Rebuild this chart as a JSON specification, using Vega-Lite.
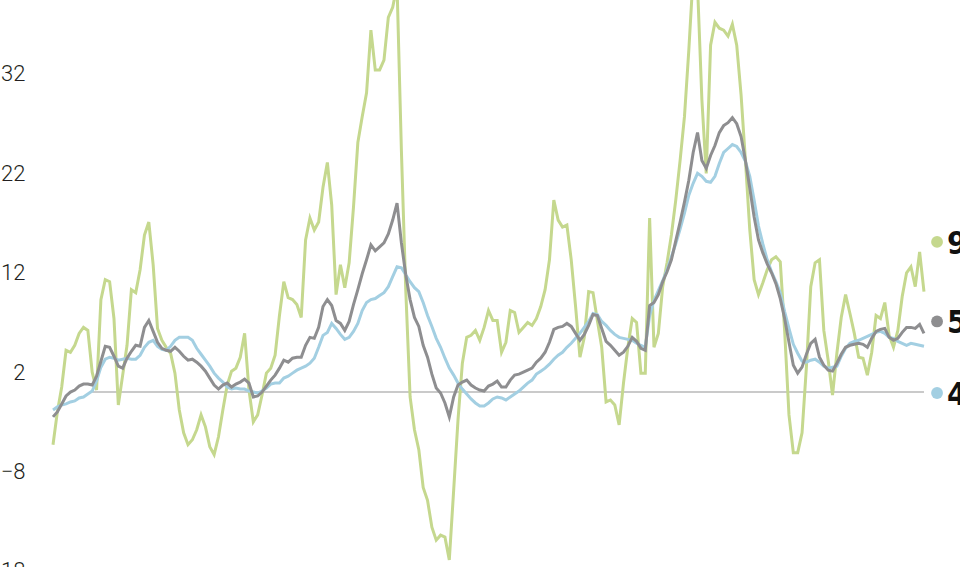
{
"$schema": "https://vega.github.io/schema/vega-lite/v6.json",
"width": 936, "height": 567,
"autosize": {"type": "none"},
"padding": {"left": 25, "top": 0, "right": 0, "bottom": 0},
"background": "#ffffff",
"config": {"view": {"stroke": null}},
"datasets": {
"base": [{"t": 9, "t2": 200, "v": 0}],
"legend": [{"t": 203, "v": 15.1, "s": "g", "lab": "9"}, {"t": 203, "v": 7.1, "s": "k", "lab": "5"}, {"t": 203, "v": -0.1, "s": "b", "lab": "4"}],
"series": [
{"t":0,"g":-5.3,"k":-2.5,"b":-1.8},{"t":1,"g":-2.0,"k":-2.0,"b":-1.5},{"t":2,"g":0.5,"k":-1.2,"b":-1.3},{"t":3,"g":4.2,"k":-0.4,"b":-1.2},{"t":4,"g":4.0,"k":0.0,"b":-1.0},
{"t":5,"g":4.7,"k":0.2,"b":-0.9},{"t":6,"g":5.9,"k":0.6,"b":-0.6},{"t":7,"g":6.5,"k":0.8,"b":-0.5},{"t":8,"g":6.2,"k":0.8,"b":-0.2},{"t":9,"g":2.0,"k":0.7,"b":0.1},
{"t":10,"g":0.2,"k":1.6,"b":1.1},{"t":11,"g":9.3,"k":3.1,"b":2.5},{"t":12,"g":11.3,"k":4.6,"b":3.3},{"t":13,"g":11.1,"k":4.5,"b":3.5},{"t":14,"g":7.4,"k":3.6,"b":3.4},
{"t":15,"g":-1.3,"k":2.6,"b":3.2},{"t":16,"g":1.7,"k":2.4,"b":3.3},{"t":17,"g":4.7,"k":3.4,"b":3.4},{"t":18,"g":10.3,"k":4.1,"b":3.3},{"t":19,"g":10.0,"k":4.7,"b":3.3},
{"t":20,"g":12.3,"k":4.6,"b":3.7},{"t":21,"g":15.8,"k":6.5,"b":4.5},{"t":22,"g":17.1,"k":7.2,"b":5.0},{"t":23,"g":12.8,"k":6.1,"b":5.2},{"t":24,"g":6.4,"k":5.0,"b":4.6},
{"t":25,"g":5.2,"k":4.4,"b":4.3},{"t":26,"g":4.5,"k":4.2,"b":4.2},{"t":27,"g":3.9,"k":4.1,"b":4.6},{"t":28,"g":1.9,"k":4.5,"b":5.2},{"t":29,"g":-1.8,"k":4.1,"b":5.5},
{"t":30,"g":-4.1,"k":3.6,"b":5.5},{"t":31,"g":-5.3,"k":3.2,"b":5.5},{"t":32,"g":-4.8,"k":3.3,"b":5.2},{"t":33,"g":-3.8,"k":3.0,"b":4.4},{"t":34,"g":-2.3,"k":2.6,"b":3.8},
{"t":35,"g":-3.5,"k":2.1,"b":3.2},{"t":36,"g":-5.5,"k":1.4,"b":2.6},{"t":37,"g":-6.3,"k":0.7,"b":1.9},{"t":38,"g":-4.5,"k":0.3,"b":1.4},{"t":39,"g":-1.8,"k":0.7,"b":1.0},
{"t":40,"g":0.7,"k":0.9,"b":0.5},{"t":41,"g":2.1,"k":0.5,"b":0.3},{"t":42,"g":2.4,"k":0.8,"b":0.4},{"t":43,"g":3.5,"k":1.0,"b":0.3},{"t":44,"g":5.9,"k":1.3,"b":0.3},
{"t":45,"g":0.2,"k":0.9,"b":0.1},{"t":46,"g":-3.0,"k":-0.5,"b":0.0},{"t":47,"g":-2.3,"k":-0.4,"b":-0.1},{"t":48,"g":-0.3,"k":0.0,"b":0.1},{"t":49,"g":1.9,"k":0.6,"b":0.4},
{"t":50,"g":2.4,"k":1.2,"b":0.8},{"t":51,"g":3.7,"k":1.7,"b":0.9},{"t":52,"g":7.7,"k":2.4,"b":0.9},{"t":53,"g":11.1,"k":3.2,"b":1.4},{"t":54,"g":9.5,"k":3.0,"b":1.6},
{"t":55,"g":9.3,"k":3.4,"b":1.9},{"t":56,"g":8.8,"k":3.5,"b":2.2},{"t":57,"g":7.5,"k":3.5,"b":2.4},{"t":58,"g":15.3,"k":4.7,"b":2.6},{"t":59,"g":17.5,"k":5.5,"b":2.9},
{"t":60,"g":16.3,"k":5.4,"b":3.4},{"t":61,"g":17.1,"k":6.5,"b":4.5},{"t":62,"g":20.6,"k":8.6,"b":5.7},{"t":63,"g":23.1,"k":9.3,"b":6.0},{"t":64,"g":18.8,"k":8.7,"b":6.9},
{"t":65,"g":9.8,"k":7.2,"b":6.4},{"t":66,"g":12.8,"k":6.9,"b":5.8},{"t":67,"g":10.5,"k":6.2,"b":5.3},{"t":68,"g":13.0,"k":7.1,"b":5.5},{"t":69,"g":18.6,"k":8.8,"b":6.1},
{"t":70,"g":25.1,"k":10.3,"b":6.9},{"t":71,"g":27.7,"k":11.9,"b":8.2},{"t":72,"g":30.1,"k":13.3,"b":9.0},{"t":73,"g":36.4,"k":14.8,"b":9.3},{"t":74,"g":32.4,"k":14.2,"b":9.4},
{"t":75,"g":32.4,"k":14.6,"b":9.7},{"t":76,"g":33.4,"k":15.0,"b":10.0},{"t":77,"g":37.7,"k":15.9,"b":10.6},{"t":78,"g":38.7,"k":17.3,"b":11.6},{"t":79,"g":40.9,"k":19.0,"b":12.6},
{"t":80,"g":24.3,"k":15.0,"b":12.5},{"t":81,"g":10.3,"k":11.8,"b":11.8},{"t":82,"g":-0.5,"k":9.3,"b":11.1},{"t":83,"g":-3.8,"k":7.5,"b":10.5},{"t":84,"g":-5.8,"k":6.6,"b":10.1},
{"t":85,"g":-9.6,"k":4.7,"b":9.0},{"t":86,"g":-10.9,"k":3.5,"b":7.7},{"t":87,"g":-13.6,"k":1.8,"b":6.6},{"t":88,"g":-14.9,"k":0.4,"b":5.4},{"t":89,"g":-14.4,"k":-0.1,"b":4.5},
{"t":90,"g":-14.6,"k":-1.1,"b":3.4},{"t":91,"g":-16.9,"k":-2.5,"b":2.4},{"t":92,"g":-9.9,"k":-0.5,"b":1.7},{"t":93,"g":-2.8,"k":0.7,"b":0.9},{"t":94,"g":2.9,"k":1.0,"b":0.3},
{"t":95,"g":5.5,"k":1.2,"b":-0.2},{"t":96,"g":5.7,"k":0.7,"b":-0.7},{"t":97,"g":6.2,"k":0.4,"b":-1.1},{"t":98,"g":5.2,"k":0.2,"b":-1.4},{"t":99,"g":6.5,"k":0.1,"b":-1.4},
{"t":100,"g":8.2,"k":0.6,"b":-1.1},{"t":101,"g":7.2,"k":0.8,"b":-0.7},{"t":102,"g":7.2,"k":1.1,"b":-0.5},{"t":103,"g":4.0,"k":0.5,"b":-0.6},{"t":104,"g":5.0,"k":0.5,"b":-0.8},
{"t":105,"g":8.2,"k":1.2,"b":-0.5},{"t":106,"g":8.0,"k":1.7,"b":-0.2},{"t":107,"g":6.0,"k":1.8,"b":0.1},{"t":108,"g":6.5,"k":2.0,"b":0.5},{"t":109,"g":7.0,"k":2.2,"b":0.9},
{"t":110,"g":6.7,"k":2.4,"b":1.2},{"t":111,"g":7.4,"k":3.0,"b":1.8},{"t":112,"g":8.6,"k":3.4,"b":2.1},{"t":113,"g":10.3,"k":4.0,"b":2.4},{"t":114,"g":13.3,"k":5.0,"b":2.8},
{"t":115,"g":19.3,"k":6.3,"b":3.3},{"t":116,"g":17.3,"k":6.5,"b":3.7},{"t":117,"g":16.6,"k":6.6,"b":4.0},{"t":118,"g":16.8,"k":6.9,"b":4.5},{"t":119,"g":13.3,"k":6.6,"b":4.9},
{"t":120,"g":8.6,"k":5.9,"b":5.4},{"t":121,"g":3.5,"k":5.2,"b":5.9},{"t":122,"g":5.5,"k":5.8,"b":6.5},{"t":123,"g":10.1,"k":6.7,"b":7.1},{"t":124,"g":10.0,"k":7.8,"b":7.9},
{"t":125,"g":7.2,"k":7.7,"b":7.8},{"t":126,"g":4.5,"k":6.4,"b":7.1},{"t":127,"g":-1.0,"k":5.1,"b":6.7},{"t":128,"g":-0.8,"k":4.7,"b":6.2},{"t":129,"g":-1.3,"k":4.2,"b":5.8},
{"t":130,"g":-3.3,"k":3.7,"b":5.5},{"t":131,"g":0.9,"k":4.0,"b":5.4},{"t":132,"g":4.5,"k":4.6,"b":5.3},{"t":133,"g":7.4,"k":5.5,"b":5.2},{"t":134,"g":7.0,"k":5.1,"b":4.9},
{"t":135,"g":1.9,"k":4.4,"b":4.7},{"t":136,"g":1.9,"k":4.2,"b":4.5},{"t":137,"g":17.5,"k":8.7,"b":7.7},{"t":138,"g":4.5,"k":9.0,"b":9.2},{"t":139,"g":5.9,"k":9.8,"b":10.2},
{"t":140,"g":10.6,"k":11.1,"b":11.2},{"t":141,"g":13.0,"k":12.1,"b":12.3},{"t":142,"g":15.8,"k":13.3,"b":13.6},{"t":143,"g":19.3,"k":15.2,"b":14.9},{"t":144,"g":23.3,"k":17.1,"b":16.4},
{"t":145,"g":27.7,"k":19.1,"b":18.0},{"t":146,"g":34.4,"k":21.3,"b":19.8},{"t":147,"g":42.0,"k":24.1,"b":21.0},{"t":148,"g":40.9,"k":26.1,"b":22.0},{"t":149,"g":29.4,"k":23.3,"b":21.7},
{"t":150,"g":22.0,"k":22.5,"b":21.2},{"t":151,"g":34.9,"k":23.8,"b":21.1},{"t":152,"g":37.2,"k":24.8,"b":21.7},{"t":153,"g":36.6,"k":26.1,"b":23.0},{"t":154,"g":36.4,"k":26.8,"b":24.1},
{"t":155,"g":35.8,"k":27.1,"b":24.5},{"t":156,"g":37.0,"k":27.6,"b":24.9},{"t":157,"g":34.9,"k":27.0,"b":24.7},{"t":158,"g":29.9,"k":25.7,"b":24.1},{"t":159,"g":23.3,"k":23.3,"b":23.2},
{"t":160,"g":16.3,"k":20.5,"b":21.7},{"t":161,"g":11.3,"k":17.6,"b":19.3},{"t":162,"g":9.8,"k":15.3,"b":16.7},{"t":163,"g":11.0,"k":14.0,"b":14.9},{"t":164,"g":12.3,"k":12.9,"b":13.3},
{"t":165,"g":13.3,"k":12.0,"b":12.1},{"t":166,"g":13.6,"k":10.9,"b":11.1},{"t":167,"g":13.1,"k":9.4,"b":10.0},{"t":168,"g":6.2,"k":7.4,"b":8.1},{"t":169,"g":-2.3,"k":5.0,"b":6.4},
{"t":170,"g":-6.1,"k":2.7,"b":4.8},{"t":171,"g":-6.1,"k":1.9,"b":3.9},{"t":172,"g":-4.1,"k":2.5,"b":3.1},{"t":173,"g":2.5,"k":3.8,"b":3.0},{"t":174,"g":10.6,"k":4.9,"b":3.2},
{"t":175,"g":13.0,"k":5.3,"b":3.3},{"t":176,"g":13.3,"k":3.5,"b":3.0},{"t":177,"g":6.2,"k":2.7,"b":2.6},{"t":178,"g":3.2,"k":2.2,"b":2.4},{"t":179,"g":-0.3,"k":2.1,"b":2.5},
{"t":180,"g":3.9,"k":2.9,"b":2.6},{"t":181,"g":7.5,"k":3.8,"b":3.6},{"t":182,"g":9.8,"k":4.5,"b":4.4},{"t":183,"g":7.9,"k":4.7,"b":4.9},{"t":184,"g":5.9,"k":4.8,"b":5.1},
{"t":185,"g":3.5,"k":4.9,"b":5.2},{"t":186,"g":3.4,"k":4.8,"b":5.4},{"t":187,"g":1.7,"k":4.5,"b":5.6},{"t":188,"g":4.0,"k":5.4,"b":5.8},{"t":189,"g":7.7,"k":6.1,"b":6.0},
{"t":190,"g":7.4,"k":6.3,"b":6.1},{"t":191,"g":9.0,"k":6.4,"b":5.9},{"t":192,"g":5.7,"k":5.5,"b":5.5},{"t":193,"g":4.5,"k":5.2,"b":5.4},{"t":194,"g":6.2,"k":5.4,"b":5.1},
{"t":195,"g":9.6,"k":6.0,"b":4.9},{"t":196,"g":12.0,"k":6.5,"b":4.7},{"t":197,"g":12.6,"k":6.5,"b":4.9},{"t":198,"g":10.6,"k":6.4,"b":4.8},{"t":199,"g":14.1,"k":6.8,"b":4.7},
{"t":200,"g":10.1,"k":5.9,"b":4.6}
]
},
"encoding": {
"x": {"field": "t", "type": "quantitative", "scale": {"domain": [-6.43, 208.5], "nice": false, "zero": false}, "axis": null},
"y": {"field": "v", "type": "quantitative", "scale": {"domain": [-18.5, 39.44], "range": [575.9, 0], "nice": false, "zero": false},
 "axis": {"values": [-18, -8, 2, 12, 22, 32], "title": null, "domain": false, "ticks": false, "grid": false, "tickSize": 0, "labelPadding": 0,
 "labelFont": "Roboto", "labelFontWeight": 300, "labelFontSize": 22, "labelColor": "#231f20", "labelAlign": "right", "labelBaseline": "middle", "labelFlush": false, "labelOverlap": false, "labelBound": false}}
},
"layer": [
{"data": {"name": "base"}, "mark": {"type": "rule", "color": "#b9b9b9", "strokeWidth": 1.5}, "encoding": {"x2": {"field": "t2"}}},
{"data": {"name": "series"}, "transform": [{"fold": ["g", "b", "k"], "as": ["s", "v"]}],
 "mark": {"type": "line", "strokeWidth": 3, "clip": true},
 "encoding": {"color": {"field": "s", "type": "nominal", "scale": {"domain": ["g", "k", "b"], "range": ["#c5d88e", "#8e8e90", "#a3cfe2"]}, "legend": null}}},
{"data": {"name": "legend"}, "mark": {"type": "circle", "size": 140, "opacity": 1}, "encoding": {"color": {"field": "s", "type": "nominal", "legend": null}}},
{"data": {"name": "legend"}, "mark": {"type": "text", "align": "left", "baseline": "middle", "dx": 10, "dy": 2, "font": "DejaVu Sans Condensed, sans-serif", "fontSize": 32, "fontWeight": "bold", "color": "#111111"}, "encoding": {"text": {"field": "lab"}}}
]
}
